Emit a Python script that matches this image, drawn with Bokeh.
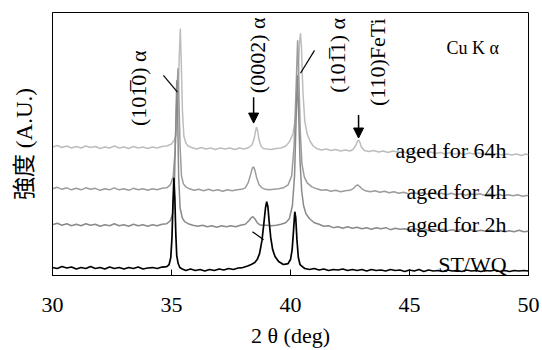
from math import pi
from bokeh.plotting import figure
from bokeh.models import Range1d, FixedTicker, ColumnDataSource, Arrow, NormalHead
from bokeh.core.properties import value
from bokeh.embed import file_html
from bokeh.resources import INLINE

SERIF = "'Liberation Serif', 'Noto Sans CJK JP'"

# ---------------- data: (2theta [deg], intensity [A.U., offset]) ----------------
st_wq = [
    (30.0, 8), (30.2, 7), (30.4, 9), (30.6, 7.5), (30.8, 8.5), (31.0, 6.5), (31.2, 8), (31.4, 7),
    (31.6, 9), (31.8, 7), (32.0, 8), (32.2, 6.5), (32.4, 8.5), (32.6, 7), (32.8, 8), (33.0, 6.5),
    (33.2, 8), (33.4, 7), (33.6, 8.5), (33.8, 6.5), (34.0, 7.5), (34.2, 8), (34.4, 7), (34.6, 8.5),
    (34.8, 9), (34.9, 11), (34.97, 18), (35.02, 38), (35.06, 72), (35.1, 98), (35.14, 78),
    (35.18, 42), (35.22, 20), (35.28, 12), (35.35, 8), (35.45, 6.5), (35.6, 5), (35.8, 6.5),
    (36.0, 5), (36.2, 6), (36.4, 4.5), (36.6, 6), (36.8, 5), (37.0, 6.5), (37.2, 5.5), (37.4, 7),
    (37.6, 6), (37.8, 7.5), (38.0, 8), (38.2, 9.5), (38.35, 11), (38.5, 13), (38.6, 16),
    (38.7, 22), (38.8, 35), (38.88, 52), (38.95, 68), (39.0, 74), (39.05, 69), (39.1, 55),
    (39.17, 38), (39.25, 26), (39.35, 19), (39.5, 14), (39.6, 12.5), (39.7, 11), (39.8, 11.5),
    (39.9, 12), (40.0, 16), (40.07, 26), (40.13, 46), (40.18, 64), (40.22, 58), (40.27, 36),
    (40.33, 18), (40.4, 11), (40.5, 9), (40.6, 7), (40.8, 6), (41.0, 7), (41.2, 5.5), (41.4, 6.5),
    (41.6, 5), (41.8, 6), (42.0, 5.5), (42.2, 6.5), (42.4, 5), (42.6, 6), (42.8, 5), (43.0, 6),
    (43.2, 4.5), (43.4, 6), (43.6, 5), (43.8, 5.5), (44.0, 4.5), (44.2, 6), (44.4, 5), (44.6, 5.5),
    (44.8, 4), (45.0, 5.5), (45.2, 4.5), (45.4, 6), (45.6, 4), (45.8, 5.5), (46.0, 4.5), (46.2, 5),
    (46.4, 4), (46.6, 5.5), (46.8, 4.5), (47.0, 5), (47.2, 4), (47.4, 5.5), (47.6, 4.5), (47.8, 5),
    (48.0, 4), (48.2, 5), (48.4, 4.5), (48.6, 5.5), (48.8, 4), (49.0, 5), (49.2, 4), (49.4, 5),
    (49.6, 4.5), (49.8, 5), (50.0, 4.5),
]

aged_2h = [
    (30.0, 51), (30.2, 52.5), (30.4, 50.5), (30.6, 52), (30.8, 50), (31.0, 51.5), (31.2, 50),
    (31.4, 52), (31.6, 50.5), (31.8, 51.5), (32.0, 49.5), (32.2, 51), (32.4, 50), (32.6, 52),
    (32.8, 50), (33.0, 51), (33.2, 49.5), (33.4, 51.5), (33.6, 50), (33.8, 51), (34.0, 49.5),
    (34.2, 51), (34.4, 50), (34.6, 51.5), (34.8, 52), (34.95, 55), (35.05, 62), (35.12, 90),
    (35.18, 150), (35.22, 196), (35.26, 160), (35.3, 100), (35.36, 68), (35.45, 58), (35.55, 54),
    (35.7, 52), (35.9, 50.5), (36.1, 49.5), (36.3, 50.5), (36.5, 49), (36.7, 50), (36.9, 48.5),
    (37.1, 50), (37.3, 49), (37.5, 50), (37.7, 49), (37.9, 50.5), (38.1, 51.5), (38.25, 55),
    (38.35, 58), (38.42, 59), (38.5, 57), (38.6, 53), (38.7, 51), (38.8, 50.5), (39.0, 50.5),
    (39.2, 50), (39.4, 50.5), (39.6, 51.5), (39.8, 53), (39.95, 57), (40.08, 70), (40.17, 100),
    (40.24, 160), (40.29, 201), (40.34, 165), (40.4, 115), (40.47, 85), (40.55, 70), (40.65, 62),
    (40.8, 57), (41.0, 53), (41.2, 51.5), (41.4, 49.5), (41.6, 50), (41.8, 48), (42.0, 49),
    (42.2, 47.5), (42.4, 49), (42.6, 47.5), (42.8, 48.5), (43.0, 47), (43.2, 48), (43.4, 46.5),
    (43.6, 48), (43.8, 47), (44.0, 48), (44.2, 46), (44.4, 47.5), (44.6, 46.5), (44.8, 47),
    (45.0, 45.5), (45.2, 47), (45.4, 46), (45.6, 47), (45.8, 45), (46.0, 46.5), (46.2, 45.5),
    (46.4, 46.5), (46.6, 45), (46.8, 46), (47.0, 45), (47.2, 46.5), (47.4, 45), (47.6, 46),
    (47.8, 44.5), (48.0, 45.5), (48.2, 44.5), (48.4, 46), (48.6, 44.5), (48.8, 45.5), (49.0, 44),
    (49.2, 45), (49.4, 44), (49.6, 45.5), (49.8, 44), (50.0, 44.5),
]

aged_4h = [
    (30.0, 87), (30.2, 88.5), (30.4, 86.5), (30.6, 88), (30.8, 86), (31.0, 87.5), (31.2, 86),
    (31.4, 88), (31.6, 86.5), (31.8, 87.5), (32.0, 85.5), (32.2, 87), (32.4, 86), (32.6, 88),
    (32.8, 86), (33.0, 87), (33.2, 85.5), (33.4, 87.5), (33.6, 86), (33.8, 87), (34.0, 85.5),
    (34.2, 87), (34.4, 86), (34.6, 87.5), (34.8, 88), (34.95, 91), (35.07, 99), (35.15, 125),
    (35.22, 175), (35.27, 208), (35.31, 180), (35.36, 130), (35.42, 100), (35.5, 92), (35.6, 89),
    (35.75, 87), (35.95, 85.5), (36.15, 86.5), (36.35, 85), (36.55, 86.5), (36.75, 85), (36.95, 86),
    (37.15, 84.5), (37.35, 86), (37.55, 85), (37.75, 86), (37.95, 86.5), (38.1, 88), (38.22, 93),
    (38.32, 101), (38.4, 108), (38.45, 109), (38.5, 106), (38.58, 98), (38.68, 91), (38.8, 88),
    (38.95, 86.5), (39.1, 86), (39.3, 86.5), (39.5, 87), (39.7, 88), (39.9, 91), (40.05, 100),
    (40.15, 130), (40.23, 185), (40.3, 236), (40.35, 200), (40.41, 145), (40.48, 112), (40.58, 99),
    (40.7, 93), (40.9, 89), (41.1, 87), (41.3, 85.5), (41.5, 86), (41.7, 84.5), (41.9, 85.5),
    (42.1, 84), (42.3, 85), (42.5, 85.5), (42.65, 87.5), (42.75, 90), (42.82, 91), (42.9, 89.5),
    (43.0, 87), (43.15, 85), (43.35, 84), (43.55, 85), (43.75, 83.5), (43.95, 84.5), (44.15, 83),
    (44.35, 84), (44.55, 82.5), (44.75, 83.5), (44.95, 82), (45.15, 83.5), (45.35, 82), (45.55, 83),
    (45.75, 81.5), (45.95, 83), (46.15, 81.5), (46.35, 82.5), (46.55, 81), (46.75, 82.5), (46.95, 81),
    (47.15, 82), (47.35, 80.5), (47.55, 82), (47.75, 81), (47.95, 82), (48.15, 80.5), (48.35, 81.5),
    (48.55, 80), (48.75, 81.5), (48.95, 80), (49.15, 81), (49.35, 80), (49.55, 81), (49.75, 79.5),
    (50.0, 80.5),
]

aged_64h = [
    (30.0, 129), (30.2, 130.5), (30.4, 128.5), (30.6, 130), (30.8, 128), (31.0, 129.5), (31.2, 128),
    (31.4, 130), (31.6, 128.5), (31.8, 129.5), (32.0, 127.5), (32.2, 129), (32.4, 128), (32.6, 130),
    (32.8, 128), (33.0, 129), (33.2, 127.5), (33.4, 129.5), (33.6, 128), (33.8, 129), (34.0, 127.5),
    (34.2, 129), (34.4, 128), (34.6, 129.5), (34.8, 130), (35.0, 132), (35.12, 136), (35.2, 142),
    (35.27, 165), (35.32, 215), (35.37, 248), (35.41, 215), (35.46, 165), (35.52, 140), (35.6, 133),
    (35.7, 130), (35.85, 128.5), (36.05, 127), (36.25, 128.5), (36.45, 127), (36.65, 128),
    (36.85, 126.5), (37.05, 128), (37.25, 127), (37.45, 128), (37.65, 126.5), (37.85, 128),
    (38.05, 127), (38.25, 128.5), (38.38, 131), (38.47, 137), (38.53, 145), (38.57, 149),
    (38.62, 145), (38.68, 136), (38.76, 130), (38.86, 127.5), (39.0, 127), (39.2, 126.5),
    (39.4, 127.5), (39.6, 128), (39.8, 130), (39.95, 134), (40.1, 142), (40.22, 160), (40.32, 200),
    (40.38, 235), (40.42, 243), (40.46, 230), (40.52, 185), (40.6, 155), (40.7, 142), (40.82, 135),
    (40.95, 130), (41.1, 127.5), (41.3, 126), (41.5, 127), (41.7, 125.5), (41.9, 126.5), (42.1, 125),
    (42.3, 126), (42.5, 125), (42.65, 127), (42.75, 131), (42.82, 135), (42.86, 136), (42.91, 134),
    (42.98, 129), (43.1, 125.5), (43.3, 124.5), (43.5, 125.5), (43.7, 124), (43.9, 125), (44.1, 123.5),
    (44.3, 125), (44.5, 124), (44.7, 124.5), (44.9, 123), (45.1, 124.5), (45.3, 123), (45.5, 124),
    (45.7, 122.5), (45.9, 124), (46.1, 122.5), (46.3, 123.5), (46.5, 122), (46.7, 123.5), (46.9, 122),
    (47.1, 123), (47.3, 121.5), (47.5, 123), (47.7, 122), (47.9, 123), (48.1, 121.5), (48.3, 122.5),
    (48.5, 121), (48.7, 122.5), (48.9, 121), (49.1, 122), (49.3, 121), (49.5, 122), (49.7, 120.5),
    (49.9, 122), (50.0, 121),
]

series_names = ["aged for 64h", "aged for 4h", "aged for 2h", "ST/WQ"]
series_colors = ["#bdbdbd", "#9c9c9c", "#8a8a8a", "#000000"]
series_widths = [1.5, 1.5, 1.5, 1.7]
series_label_y = [125, 84, 51, 11]

x_ticks = [30, 35, 40, 45, 50]
x_title = "2 \u03b8 (deg)"
y_title = "\u5f37\u5ea6 (A.U.)"

# peak annotations (rotated texts)
peak_texts = ["(101\u03050) \u03b1", "(0002) \u03b1", "(101\u03051) \u03b1", "(110)FeTi"]
peak_text_x = [33.61, 38.61, 41.97, 43.66]
peak_text_y = [188, 221, 221, 214]

# arrows (x, y_from, y_to)
arrow_x = [38.45, 42.86]
arrow_y0 = [179, 161]
arrow_y1 = [153, 138]

# leader lines
lead_x0 = [34.66, 41.01, 38.40]
lead_y0 = [201, 226, 44]
lead_x1 = [35.25, 40.42, 38.87]
lead_y1 = [184, 203, 36]

# ---------------- figure ----------------
p = figure(width=542, height=350, output_backend="svg", toolbar_location=None,
           x_range=Range1d(30, 50), y_range=Range1d(0, 264),
           min_border_left=52, min_border_right=14, min_border_top=12, min_border_bottom=74)
p.background_fill_color = "white"
p.border_fill_color = "white"
p.outline_line_color = "black"
p.outline_line_width = 1
p.grid.visible = False

for pts, col, lw in zip([aged_64h, aged_4h, aged_2h, st_wq], series_colors, series_widths):
    xs = [a for a, b in pts]
    ys = [b for a, b in pts]
    p.line(xs, ys, line_color=col, line_width=lw)

# x axis
p.xaxis.ticker = FixedTicker(ticks=x_ticks)
p.xaxis.minor_tick_line_color = None
p.xaxis.major_tick_in = 6
p.xaxis.major_tick_out = 0
p.xaxis.major_tick_line_color = "black"
p.xaxis.axis_line_color = "black"
p.xaxis.major_label_text_font = SERIF
p.xaxis.major_label_text_font_size = "22px"
p.xaxis.major_label_text_color = "black"
p.xaxis.major_label_standoff = 22
p.xaxis.axis_label = x_title
p.xaxis.axis_label_text_font = SERIF
p.xaxis.axis_label_text_font_size = "22px"
p.xaxis.axis_label_text_font_style = "normal"
p.xaxis.axis_label_text_color = "black"
p.xaxis.axis_label_standoff = 8

# y axis (no ticks, no labels)
p.yaxis.ticker = FixedTicker(ticks=[])
p.yaxis.major_tick_line_color = None
p.yaxis.minor_tick_line_color = None
p.yaxis.major_label_text_font_size = "0px"
p.yaxis.axis_line_color = "black"
p.yaxis.axis_label = y_title
p.yaxis.axis_label_text_font = SERIF
p.yaxis.axis_label_text_font_size = "23px"
p.yaxis.axis_label_text_font_style = "normal"
p.yaxis.axis_label_text_color = "black"
p.yaxis.axis_label_standoff = 16

# series labels (right aligned)
lab_src = ColumnDataSource(dict(x=[49.08] * 4, y=series_label_y, t=series_names))
p.text(x="x", y="y", text="t", source=lab_src, text_align="right", text_baseline="alphabetic",
       text_font=value(SERIF), text_font_size=value("22px"), text_color="black")

# Cu K alpha
p.text(x=[46.55], y=[228], text=["Cu K \u03b1"], text_align="left", text_baseline="alphabetic",
       text_font=value(SERIF), text_font_size=value("18px"), text_color="black")

# rotated peak labels
pk_src = ColumnDataSource(dict(x=peak_text_x, y=peak_text_y, t=peak_texts))
p.text(x="x", y="y", text="t", source=pk_src, angle=pi / 2, text_align="center",
       text_baseline="middle", text_font=value(SERIF), text_font_size=value("22px"),
       text_color="black")

# leader lines
p.segment(x0=lead_x0, y0=lead_y0, x1=lead_x1, y1=lead_y1, line_color="black", line_width=1.2)

# arrows
for ax, a0, a1 in zip(arrow_x, arrow_y0, arrow_y1):
    p.add_layout(Arrow(end=NormalHead(size=10, fill_color="black", line_color="black"),
                       x_start=ax, y_start=a0, x_end=ax, y_end=a1,
                       line_color="black", line_width=1.5))

open("out.html", "w").write(file_html(p, INLINE))
